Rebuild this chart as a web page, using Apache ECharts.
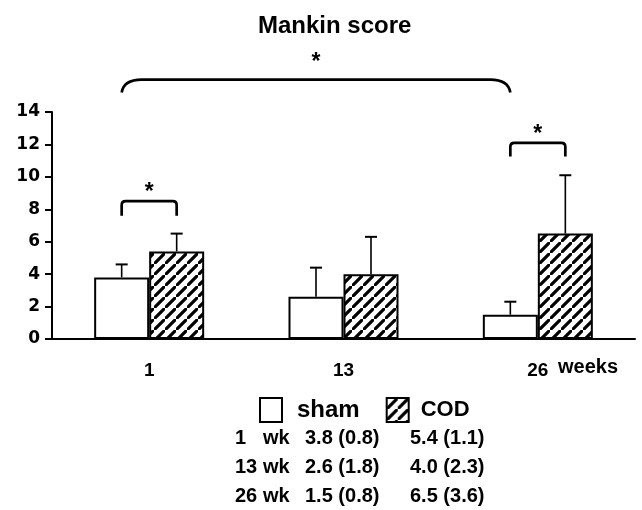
<!DOCTYPE html>
<html><head><meta charset="utf-8">
<script src="https://cdn.jsdelivr.net/npm/echarts@6/dist/echarts.min.js"></script>
<style>html,body{margin:0;padding:0;background:#fff}#c{width:642px;height:510px}</style>
</head><body><div id="c"></div>
<script>
// ---- data ----
const categories = ['1', '13', '26'];
const rowNumbers = ['1', '13', '26'];
const rowUnit = 'wk';
const seriesNames = ['sham', 'COD'];
const shamMean = [3.8, 2.6, 1.5];
const shamSD = [0.8, 1.8, 0.8];
const codMean = [5.4, 4.0, 6.5];
const codSD = [1.1, 2.3, 3.6];
const yMin = 0, yMax = 14, yStep = 2;
// significance brackets: [fromCat, fromSeries, toCat, toSeries, topValue, legValue, starValue]
const brackets = [
  [0, 0, 0, 1, 8.5, 7.6, 9.4],
  [2, 0, 2, 1, 12.1, 11.25, 13.0]
];
const braces = [
  [0, 0, 2, 0, 16.0, 15.2, 17.4]
];

const FONT = 'Liberation Sans, Arial, Helvetica, sans-serif';
const WIDE = 'DejaVu Sans, Verdana, sans-serif';
const BAR_W = 55;

function hatch() {
  const s = 11;
  const c = document.createElement('canvas'); c.width = s; c.height = s;
  const g = c.getContext('2d');
  g.fillStyle = '#fff'; g.fillRect(0, 0, s, s);
  g.strokeStyle = '#000'; g.lineWidth = 3.2;
  g.beginPath();
  g.moveTo(-2, s + 2); g.lineTo(s + 2, -2);
  g.moveTo(-2 - s, s + 2 - s); g.lineTo(s + 2 - s, -2 - s);
  g.moveTo(-2 + s, s + 2 + s); g.lineTo(s + 2 + s, -2 + s);
  g.stroke();
  return c;
}
const hatchFill = { image: hatch(), repeat: 'repeat' };

const chart = echarts.init(document.getElementById('c'), null, { renderer: 'canvas' });

function offsetFor(s) { return s === 0 ? -BAR_W / 2 : BAR_W / 2; }

function errRender(seriesIdx) {
  return function (params, api) {
    const c = api.value(0), m = api.value(1), sd = api.value(2);
    const p0 = api.coord([c, m]);
    const p1 = api.coord([c, m + sd]);
    const x = p0[0] + offsetFor(seriesIdx);
    return {
      type: 'group',
      children: [
        { type: 'line', shape: { x1: x, y1: p0[1], x2: x, y2: p1[1] }, style: { stroke: '#000', lineWidth: 1.6 } },
        { type: 'line', shape: { x1: x - 6, y1: p1[1], x2: x + 6, y2: p1[1] }, style: { stroke: '#000', lineWidth: 2 } }
      ]
    };
  };
}

function bracketRender(isBrace) {
  return function (params, api) {
    const fc = api.value(0), fs = api.value(1), tc = api.value(2), ts = api.value(3);
    const top = api.value(4), leg = api.value(5), star = api.value(6);
    const a = api.coord([fc, top]), b = api.coord([tc, top]);
    const x1 = a[0] + offsetFor(fs), x2 = b[0] + offsetFor(ts);
    const yt = a[1], yl = api.coord([fc, leg])[1], ys = api.coord([fc, star])[1];
    let path;
    if (isBrace) {
      path = `M${x1},${yl} Q${x1 + 2},${yt} ${x1 + 20},${yt} L${x2 - 20},${yt} Q${x2 - 2},${yt} ${x2},${yl}`;
    } else {
      path = `M${x1},${yl} L${x1},${yt + 4} Q${x1},${yt} ${x1 + 4},${yt} L${x2 - 4},${yt} Q${x2},${yt} ${x2},${yt + 4} L${x2},${yl}`;
    }
    return {
      type: 'group',
      children: [
        { type: 'path', shape: { pathData: path }, style: { stroke: '#000', lineWidth: 2.7, fill: null } },
        { type: 'text', style: { text: '*', x: (x1 + x2) / 2, y: ys + 6, align: 'center', verticalAlign: 'middle', font: 'bold 23px ' + FONT, fill: '#000' } }
      ]
    };
  };
}

// table text
const tableGraphics = [];
const rowY = [438, 467, 496];
for (let i = 0; i < rowNumbers.length; i++) {
  const tf = 'bold 20px ' + FONT;
  tableGraphics.push({ type: 'text', left: 235, top: rowY[i] - 10, style: { text: rowNumbers[i], font: tf, fill: '#000' } });
  tableGraphics.push({ type: 'text', left: 263, top: rowY[i] - 10, style: { text: rowUnit, font: tf, fill: '#000' } });
  tableGraphics.push({ type: 'text', left: 305, top: rowY[i] - 10, style: { text: shamMean[i].toFixed(1) + ' (' + shamSD[i].toFixed(1) + ')', font: tf, fill: '#000' } });
  tableGraphics.push({ type: 'text', left: 410, top: rowY[i] - 10, style: { text: codMean[i].toFixed(1) + ' (' + codSD[i].toFixed(1) + ')', font: tf, fill: '#000' } });
}
tableGraphics.push({ type: 'text', left: 558, top: 357, style: { text: 'weeks', font: 'bold 20px ' + FONT, fill: '#000' } });

const option = {
  backgroundColor: '#fff',
  animation: false,
  title: {
    text: 'Mankin score', left: 253, top: 9,
    textStyle: { fontFamily: FONT, fontWeight: 'bold', fontSize: 24, color: '#000' }
  },
  legend: {
    data: [
      { name: 'sham', textStyle: { fontSize: 24, padding: [0, 0, 0, 10] } },
      { name: 'COD', textStyle: { fontSize: 22, padding: [0, 0, 0, 7] } }
    ],
    left: 259, top: 397, itemWidth: 22, itemHeight: 24, itemGap: 26,
    icon: 'rect', padding: 0,
    textStyle: { fontFamily: FONT, fontWeight: 'bold', color: '#000' }
  },
  grid: { left: 52, right: 7, top: 112, bottom: 171, containLabel: false },
  xAxis: {
    type: 'category', data: categories, boundaryGap: true,
    axisLine: { lineStyle: { color: '#000', width: 2 } },
    axisTick: { length: 7, lineStyle: { color: '#000', width: 2 } },
    axisLabel: { color: '#000', fontFamily: FONT, fontWeight: 'bold', fontSize: 19, margin: 22 }
  },
  yAxis: {
    type: 'value', min: yMin, max: yMax, interval: yStep,
    axisLine: { show: true, lineStyle: { color: '#000', width: 2 } },
    axisTick: { show: true, length: 7, lineStyle: { color: '#000', width: 2 } },
    splitLine: { show: false },
    axisLabel: { color: '#000', fontFamily: WIDE, fontWeight: 'bold', fontSize: 17, margin: 12 }
  },
  graphic: tableGraphics,
  series: [
    {
      name: 'sham', type: 'bar', data: shamMean, barWidth: BAR_W, barGap: '0%',
      itemStyle: { color: '#fff', borderColor: '#000', borderWidth: 2 }
    },
    {
      name: 'COD', type: 'bar', data: codMean, barWidth: BAR_W, barGap: '0%',
      itemStyle: { color: hatchFill, borderColor: '#000', borderWidth: 2 }
    },
    {
      type: 'custom', renderItem: errRender(0), clip: false, z: 1,
      data: shamMean.map((m, i) => [i, m, shamSD[i]])
    },
    {
      type: 'custom', renderItem: errRender(1), clip: false, z: 1,
      data: codMean.map((m, i) => [i, m, codSD[i]])
    },
    { type: 'custom', renderItem: bracketRender(false), clip: false, data: brackets },
    { type: 'custom', renderItem: bracketRender(true), clip: false, data: braces }
  ]
};
chart.setOption(option);
</script></body></html>
